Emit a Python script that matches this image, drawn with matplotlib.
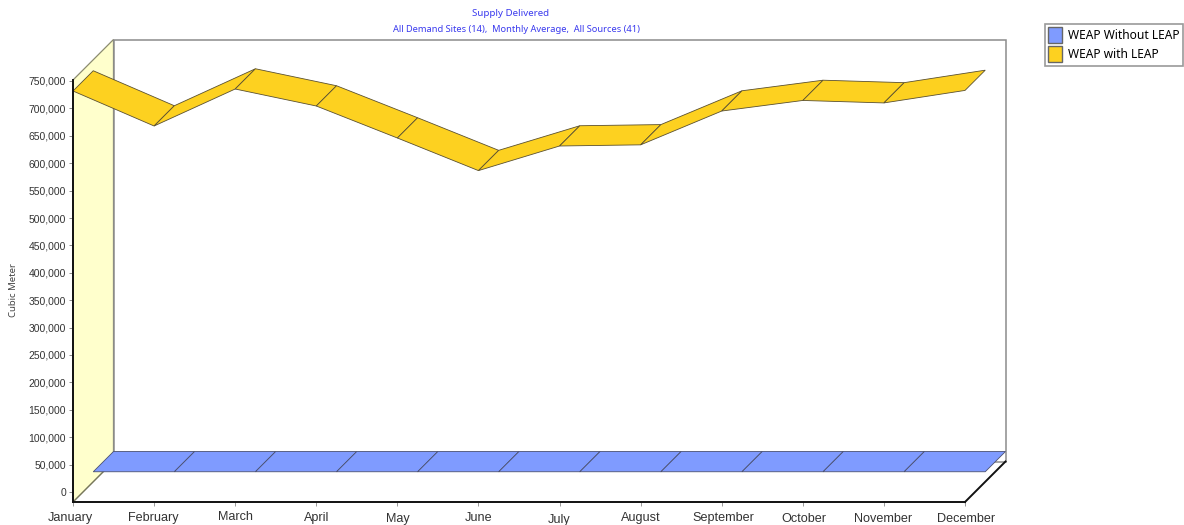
import matplotlib
matplotlib.use("Agg")
import matplotlib.pyplot as plt
from matplotlib.patches import Polygon, Patch
from matplotlib.transforms import Affine2D

months = ["January", "February", "March", "April", "May", "June", "July",
          "August", "September", "October", "November", "December"]
with_leap = [731750, 667900, 735400, 704400, 646000, 586500, 631400,
             633500, 695200, 714500, 710000, 732800]
without_leap = [0] * 12
y_ticks = list(range(0, 750001, 50000))

W, H = 1184, 525
fig = plt.figure(figsize=(W / 100, H / 100), dpi=100, facecolor="white")
L, R, T, B = 73, 965, 80, 502
ax = fig.add_axes([L / W, 1 - B / H, (R - L) / W, (B - T) / H])
PX = 27.4 / 50000
ax.set_xlim(0, 11)
ax.set_ylim(-(B - 492) / PX, (492 - T) / PX)
ax.patch.set_alpha(0)
for s in ("top", "right"):
    ax.spines[s].set_visible(False)
for s in ("left", "bottom"):
    ax.spines[s].set_linewidth(1.4)
    ax.spines[s].set_color("#111111")
    ax.spines[s].set_zorder(9)

DEPTH = 40.5


def shift(frac):
    return ax.transData + Affine2D().translate(DEPTH * frac, DEPTH * frac)


y0, y1 = ax.get_ylim()
GREY = "#8c8c8c"
# left wall
ax.add_patch(Polygon([(L, H - B), (L, H - T), (L + DEPTH, H - T + DEPTH), (L + DEPTH, H - B + DEPTH)],
                     transform=None, facecolor="#FFFFCC", edgecolor="#8c8c70", lw=0.9, zorder=1,
                     clip_on=False))
# back wall
ax.add_patch(Polygon([(0, y0), (11, y0), (11, y1), (0, y1)], transform=shift(1), facecolor="white",
                     edgecolor=GREY, lw=1.1, zorder=2, clip_on=False))
# floor edges
ax.add_line(plt.Line2D([R, R + DEPTH], [H - B, H - B + DEPTH], transform=None, color="#111111",
                       lw=1.4, zorder=9, clip_on=False))
ax.add_line(plt.Line2D([L, L + DEPTH], [H - B, H - B + DEPTH], transform=None, color="#77775a",
                       lw=0.8, zorder=3, clip_on=False))


def ribbon(values, f0, f1, face, edge, z):
    t0, t1 = shift(f0), shift(f1)
    for i in range(len(values) - 1):
        a0 = t0.transform((i, values[i]))
        b0 = t0.transform((i + 1, values[i + 1]))
        b1 = t1.transform((i + 1, values[i + 1]))
        a1 = t1.transform((i, values[i]))
        ax.add_patch(Polygon([a0, b0, b1, a1], transform=None, facecolor=face, edgecolor=edge,
                             lw=0.6, zorder=z + i * 0.01, clip_on=False))


ribbon(without_leap, 0.5, 1.0, "#7F9BFF", "#4a5070", 4)
ribbon(with_leap, 0.0, 0.5, "#FDD120", "#5a5030", 5)

SANS = ["Liberation Sans", "DejaVu Sans"]
ax.set_xticks(range(12))
ax.set_xticklabels(months, fontsize=9.1, family=SANS, color="#333333")
ax.set_yticks(y_ticks)
ax.set_yticklabels([f"{v:,}" for v in y_ticks], fontsize=7.5, family=SANS, color="#333333")
ax.tick_params(axis="x", length=3, width=0.6, color="#888888", pad=4)
ax.tick_params(axis="y", length=3, width=0.6, color="#777777", pad=2)

label_nudge = [(-2.5, 0), (-1, 0), (0, 1), (0, 0), (1, -1), (0, 0),
               (0, -2), (0, 0), (1.5, 0), (1, -1), (-1, -1), (1, -1)]
for lab, (dx, dy) in zip(ax.get_xticklabels(), label_nudge):
    lab.set_transform(lab.get_transform() + Affine2D().translate(dx, dy))

fig.text(14 / W, 1 - 290 / H, "Cubic Meter", rotation=90, ha="center", va="center",
         fontsize=6.9, family="Noto Sans", color="#444444")
fig.text(510.5 / W, 1 - 13 / H, "Supply Delivered", ha="center", va="center",
         fontsize=7.0, family="Noto Sans", color="#3A3AEE")
fig.text(516.5 / W, 1 - 29 / H, "All Demand Sites (14),  Monthly Average,  All Sources (41)",
         ha="center", va="center", fontsize=6.7, family="Noto Sans", color="#3A3AEE")

handles = [Patch(facecolor="#7F9BFF", edgecolor="#666666", label="WEAP Without LEAP"),
           Patch(facecolor="#FDD120", edgecolor="#666666", label="WEAP with LEAP")]
leg = fig.legend(handles=handles, loc="upper left", bbox_to_anchor=(1044.5 / W, 1 - 23.5 / H),
                 borderaxespad=0, prop={"family": "Noto Sans", "size": 8.6},
                 fancybox=False, edgecolor="#9a9a9a", framealpha=1,
                 handlelength=1.15, handleheight=1.7, handletextpad=0.5,
                 labelspacing=0.22, borderpad=0.3)
leg.get_frame().set_linewidth(1.2)

fig.savefig("out.png", dpi=100)
